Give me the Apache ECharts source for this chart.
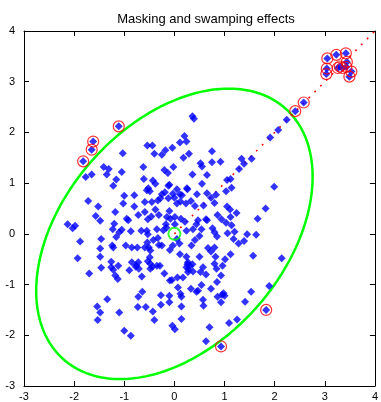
<!DOCTYPE html>
<html>
<head>
<meta charset="utf-8">
<script src="https://cdn.jsdelivr.net/npm/echarts@6/dist/echarts.min.js"></script>
<style>
  html, body { margin: 0; padding: 0; background: #fff; }
  #chart { width: 381px; height: 402px; }
</style>
</head>
<body>
<div id="chart"></div>
<script>
// Sample points, upper part of the cloud
const upperPts = [
  [0.20,1.93],[0.36,2.32],[0.39,2.27],[1.91,1.90],[2.07,2.05],[2.24,2.25],
  [0.11,1.80],[0.24,1.82],[-0.54,1.74],[-0.44,1.74],[-0.18,1.65],[-0.04,1.70],
  [-0.40,1.58],[-0.25,1.56],[-1.03,1.59],[0.18,1.50],[0.29,1.58],[0.75,1.63],
  [0.75,1.41],[0.52,1.39],[0.55,1.33],[0.92,1.42],[1.34,1.48],[1.39,1.38],
  [1.29,1.28],[1.54,1.48],[-1.41,1.32],[-1.31,1.28],[-0.62,1.32],[-0.20,1.26],
  [-0.13,1.20],[-0.02,1.32],[-1.77,1.12],[-1.65,1.17],[-1.35,1.17],[-1.05,1.22],
  [-1.16,1.07],[-1.22,0.95],[-0.61,1.08],[-0.43,1.05],[0.36,1.17],[0.55,0.99],
  [0.65,1.16],[1.05,1.06],[1.12,1.08],[1.14,0.91],[1.03,0.84],[1.99,0.93],
  [-0.12,0.95],[-0.52,0.90],[-0.55,0.86],[-0.49,0.84],[-0.25,0.78],[-0.19,0.82],
  [-0.03,0.79],[0.11,0.78],[0.15,0.76],[0.00,0.71],[0.26,0.88],[0.45,0.78],
  [0.65,0.80],[0.73,0.71],[0.83,0.77],[0.80,0.61],[-0.38,0.99],[-0.10,0.97],
  [0.05,0.88],[0.25,0.90],[-1.72,0.65],[-1.52,0.54],[-1.00,0.75],[-0.80,0.76],
  [-1.02,0.60],[-0.80,0.54],[-0.59,0.63],[-0.45,0.63],[-0.33,0.66],[-0.38,0.48],
  [0.23,0.60],[0.33,0.65],[0.41,0.55],[0.58,0.56],[1.05,0.54],[1.11,0.48],
  [1.24,0.41],[1.82,0.50],[1.66,0.30],[-0.28,0.70],[-0.12,0.70],[0.05,0.60],
  [0.12,0.64]
];

// Sample points, middle band
const middlePts = [
  [1.63,-0.02],[2.14,-0.48],[1.57,-0.43],[1.39,-0.14],[1.45,-0.01],
  [-1.57,0.35],[-1.48,0.26],[-2.13,0.19],[-2.03,0.11],[-1.98,0.16],[-1.88,-0.15],
  [-1.93,-0.48],[-1.18,0.43],[-0.95,0.30],[-0.92,0.27],[-0.72,0.37],[-0.59,0.43],
  [-0.53,0.29],[-0.46,0.34],[-0.31,0.37],[-0.10,0.45],[-0.08,0.30],[-0.15,0.33],
  [0.01,0.33],[-0.17,0.19],[0.01,0.19],[-0.16,0.12],[0.13,0.30],[0.21,0.24],
  [0.44,0.19],[0.47,0.27],[0.65,0.27],[0.86,0.37],[0.94,0.29],[1.03,0.22],
  [1.12,0.33],[1.14,0.17],[-1.20,0.20],[-1.23,0.09],[-1.05,0.08],[-1.10,0.03],
  [-1.16,-0.06],[-0.87,0.05],[-0.66,0.06],[-0.55,0.06],[-0.35,0.09],[-0.22,0.07],
  [-0.53,-0.01],[0.24,0.06],[0.37,0.09],[0.54,0.09],[0.76,0.11],[0.80,0.03],
  [0.50,-0.04],[0.85,-0.05],[1.06,0.01],[1.20,0.04],[1.18,-0.10],[1.28,-0.19],
  [-1.46,-0.10],[-1.24,-0.23],[-1.22,-0.27],[-1.48,-0.29],[-1.48,-0.45],[-0.97,-0.23],
  [-0.85,-0.27],[-0.74,-0.27],[-0.59,-0.27],[-0.54,-0.17],[-0.51,-0.27],[-0.48,-0.33],
  [-0.42,-0.12],[-0.33,-0.08],[-0.31,-0.22],[-0.25,-0.23],[-0.49,-0.46],[-0.85,-0.56],
  [-0.72,-0.56],[-0.53,-0.54],[0.05,-0.10],[0.10,-0.19],[-0.09,-0.32],[-0.03,-0.23],
  [0.41,-0.12],[0.34,-0.23],[0.24,-0.45],[0.27,-0.56],[0.36,-0.60],[0.50,-0.45],
  [0.80,-0.27],[0.82,-0.45],[1.01,-0.50],[1.12,-0.40],[0.11,-0.40],[0.67,-0.28],
  [0.73,-0.35],[-1.26,-0.55],[0.63,0.29]
];

// Sample points, lower part of the cloud
const lowerPts = [
  [-0.48,-0.59],[-0.29,-0.63],[0.31,-0.63],[0.24,-0.66],[0.57,-0.66],[0.80,-0.59],
  [0.96,-0.63],[-1.70,-0.78],[-1.46,-0.67],[-1.26,-0.66],[-1.22,-0.71],[-1.12,-0.63],
  [-1.18,-0.82],[-1.13,-0.89],[-0.90,-0.72],[-0.76,-0.62],[-0.71,-0.69],[-0.65,-0.84],
  [-0.48,-0.69],[-0.35,-0.63],[-0.20,-0.78],[-0.05,-0.91],[0.06,-0.86],[0.07,-1.06],
  [0.26,-0.60],[0.27,-0.75],[0.37,-0.74],[0.52,-0.75],[0.63,-0.80],[0.84,-0.69],
  [0.93,-0.82],[0.85,-0.95],[0.54,-1.01],[0.33,-1.08],[0.47,-1.12],[0.44,-1.14],
  [0.73,-1.08],[0.12,-1.18],[0.14,-1.24],[0.14,-1.43],[0.14,-1.68],[-0.10,-1.22],
  [-0.10,-1.35],[-0.27,-1.21],[-0.27,-1.40],[-0.64,-1.14],[-0.72,-1.24],[-0.73,-1.44],
  [-0.57,-1.44],[-0.43,-1.53],[-0.40,-1.70],[-0.04,-1.81],[0.01,-1.88],[-1.00,-1.91],
  [-0.87,-2.01],[-1.10,-1.55],[-1.34,-1.29],[-1.54,-1.43],[-1.48,-1.55],[-1.53,-1.70],
  [0.57,-1.30],[0.58,-1.42],[0.86,-1.24],[0.93,-1.35],[0.98,-1.17],[0.95,-1.20],
  [1.00,-1.22],[1.41,-1.34],[1.53,-1.14],[1.89,-1.03],[1.09,-1.76],[1.25,-1.69],
  [0.70,-1.84],[0.63,-2.12],[-0.09,-0.92],[0.17,-0.86],[-0.44,-0.65],[-0.77,-0.65],
  [0.28,-0.70]
];

// Points flagged as outliers (drawn with a ring)
const outlierPts = [
  [3.05,3.46],[3.23,3.53],[3.42,3.56],[3.04,3.26],[3.03,3.15],[3.26,3.27],
  [3.35,3.27],[3.30,3.30],[3.43,3.29],[3.44,3.39],[3.53,3.20],[3.49,3.10],
  [2.41,2.42],[2.58,2.59],[-1.11,2.12],[-1.62,1.82],[-1.65,1.66],[-1.82,1.43],
  [1.83,-1.50],[0.93,-2.22]
];

// Robust location estimate and the shape matrix of the tolerance ellipse
const centerPt = [0, 0];
const shapeMatrix = [[7.6, 3.1], [3.1, 8.2]];

// Direction of the contaminated points: dotted ray from the centre
const rayStart = [0, 0];
const rayEnd = [4, 4];

// Axis ranges and ticks
const xRange = [-3, 4];
const yRange = [-3, 4];
const tickStep = 1;

// Trace the ellipse boundary from the Cholesky factor of the shape matrix
function ellipsePath(c, S, n) {
  const l11 = Math.sqrt(S[0][0]);
  const l21 = S[1][0] / l11;
  const l22 = Math.sqrt(S[1][1] - l21 * l21);
  const out = [];
  for (let i = 0; i <= n; i++) {
    const t = (2 * Math.PI * i) / n;
    const u = Math.cos(t), v = Math.sin(t);
    out.push([c[0] + l11 * u, c[1] + l21 * u + l22 * v]);
  }
  return out;
}

const FONT = '"Liberation Sans", Arial, Helvetica, sans-serif';

const chart = echarts.init(document.getElementById('chart'), null, { renderer: 'canvas' });

const baseAxis = {
  type: 'value',
  interval: tickStep,
  axisLine: { show: true, onZero: false, lineStyle: { color: '#000', width: 1 } },
  axisTick: { show: true, inside: true, length: 5, lineStyle: { color: '#000', width: 1 } },
  splitLine: { show: false },
  axisLabel: { color: '#000', fontSize: 11, fontFamily: FONT }
};

chart.setOption({
  animation: false,
  backgroundColor: '#fff',
  title: {
    text: 'Masking and swamping effects',
    left: 201,
    textAlign: 'center',
    top: 8,
    textStyle: { color: '#000', fontSize: 13, fontWeight: 'normal', fontFamily: FONT }
  },
  grid: { left: 24, right: 2, top: 31, bottom: 15, containLabel: false },
  xAxis: [
    Object.assign({}, baseAxis, {
      min: xRange[0], max: xRange[1], position: 'bottom',
      axisLabel: Object.assign({}, baseAxis.axisLabel, { margin: 5 })
    }),
    Object.assign({}, baseAxis, {
      min: xRange[0], max: xRange[1], position: 'top',
      axisLabel: { show: false }
    })
  ],
  yAxis: [
    Object.assign({}, baseAxis, {
      min: yRange[0], max: yRange[1], position: 'left',
      axisLabel: Object.assign({}, baseAxis.axisLabel, { margin: 9 })
    }),
    Object.assign({}, baseAxis, {
      min: yRange[0], max: yRange[1], position: 'right',
      axisLabel: { show: false }
    })
  ],
  series: [
    {
      name: 'ellipse',
      type: 'line',
      data: ellipsePath(centerPt, shapeMatrix, 240),
      showSymbol: false,
      smooth: false,
      lineStyle: { color: '#00ff00', width: 2.5 },
      z: 2,
      silent: true
    },
    {
      name: 'ray',
      type: 'line',
      data: [rayStart, rayEnd],
      showSymbol: false,
      lineStyle: { color: '#ff0000', width: 1.6, type: [1.8, 6.5] },
      z: 2,
      silent: true
    },
    {
      name: 'points',
      type: 'scatter',
      data: upperPts.concat(middlePts, lowerPts, outlierPts),
      symbol: 'diamond',
      symbolSize: 8,
      itemStyle: { color: '#0000ff' },
      z: 3,
      silent: true
    },
    {
      name: 'outliers',
      type: 'scatter',
      data: outlierPts,
      symbol: 'circle',
      symbolSize: 11,
      itemStyle: { color: 'rgba(0,0,0,0)', borderColor: '#ff0000', borderWidth: 1.2 },
      z: 4,
      silent: true
    },
    {
      name: 'center',
      type: 'scatter',
      data: [centerPt],
      symbol: 'circle',
      symbolSize: 12,
      itemStyle: { color: 'rgba(0,0,0,0)', borderColor: '#00ff00', borderWidth: 2 },
      z: 5,
      silent: true
    }
  ]
});
</script>
</body>
</html>
